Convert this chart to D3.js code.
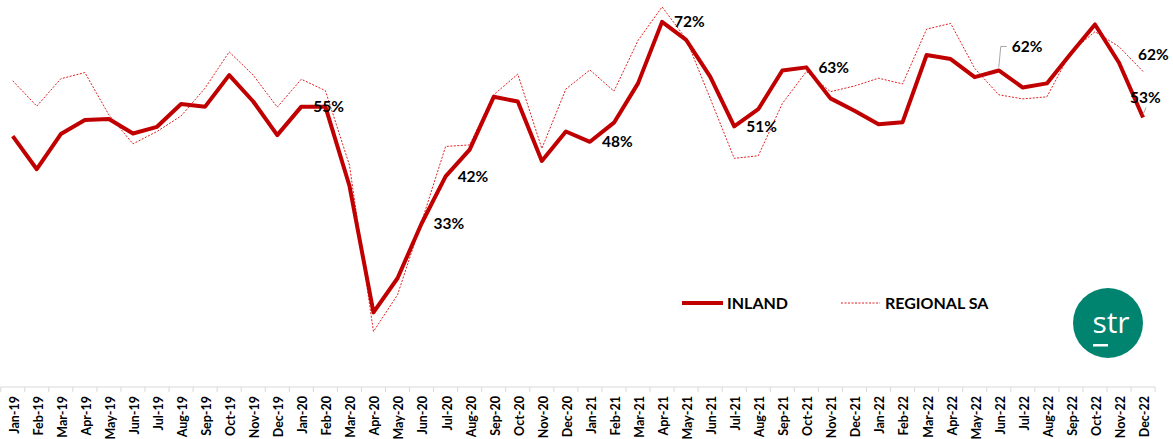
<!DOCTYPE html>
<html>
<head>
<meta charset="utf-8">
<script src="https://cdn.jsdelivr.net/npm/d3@7"></script>
<style>
	body { margin: 0; background: #fff; }
	svg { display: block; }
	.tick-label { font-family: Lato, "Open Sans", sans-serif; font-weight: bold; font-size: 12.5px; fill: #000; }
	.data-label { font-family: Lato, "Open Sans", sans-serif; font-weight: bold; font-size: 15.5px; fill: #000; }
	.legend-label { font-family: Lato, "Open Sans", sans-serif; font-weight: bold; font-size: 16px; fill: #000; }
</style>
</head>
<body>
<svg id="chart" width="1173" height="439"></svg>
<script>
// categories
var months = [
	"Jan-19", "Feb-19", "Mar-19", "Apr-19", "May-19", "Jun-19", "Jul-19", "Aug-19", "Sep-19", "Oct-19", "Nov-19", "Dec-19",
	"Jan-20", "Feb-20", "Mar-20", "Apr-20", "May-20", "Jun-20", "Jul-20", "Aug-20", "Sep-20", "Oct-20", "Nov-20", "Dec-20",
	"Jan-21", "Feb-21", "Mar-21", "Apr-21", "May-21", "Jun-21", "Jul-21", "Aug-21", "Sep-21", "Oct-21", "Nov-21", "Dec-21",
	"Jan-22", "Feb-22", "Mar-22", "Apr-22", "May-22", "Jun-22", "Jul-22", "Aug-22", "Sep-22", "Oct-22", "Nov-22", "Dec-22"
];

// occupancy (%)
var inland = [
	49.5, 43.1, 49.9, 52.6, 52.8, 50.0, 51.3, 55.7, 55.2, 61.3, 56.2, 49.7,
	55.2, 55.2, 39.9, 15.4, 22.0, 32.6, 41.7, 46.9, 57.1, 56.2, 44.7, 50.4,
	48.4, 52.1, 59.7, 71.6, 68.1, 61.0, 51.4, 54.7, 62.2, 62.8, 56.8, 54.4,
	51.8, 52.2, 65.2, 64.4, 60.9, 62.2, 58.9, 59.7, 65.5, 71.1, 63.7, 53.1
];
var regionalSA = [
	60.2, 55.3, 60.6, 61.8, 53.6, 48.0, 50.4, 53.4, 58.8, 65.8, 61.3, 55.1,
	60.5, 58.3, 43.9, 11.7, 18.8, 32.9, 47.5, 47.8, 57.5, 61.5, 47.1, 58.6,
	62.3, 58.2, 68.0, 74.5, 68.3, 56.8, 45.2, 45.7, 55.8, 62.0, 58.1, 59.2,
	60.7, 59.6, 70.2, 71.3, 62.6, 57.5, 56.7, 57.1, 65.8, 69.7, 66.8, 62.0
];

// which points carry a data label
var inlandLabelled = ["Jan-20", "Jun-20", "Jul-20", "Jan-21", "Apr-21", "Jul-21", "Oct-21", "Jun-22", "Dec-22"];
var regionalLabelled = ["Dec-22"];

var seriesNames = ["INLAND", "REGIONAL SA"];

var svg = d3.select("#chart");

// scales
var xScale = d3.scaleBand()
	.domain(months)
	.range([0.7, 1155.1])
	.padding(0);
var yScale = d3.scaleLinear()
	.domain([0, 75])
	.range([392, 4.3]);

var cx = function(m) { return xScale(m) + xScale.bandwidth() / 2; };
var axisY = 387;

// category axis
svg.append("line")
	.attr("x1", xScale.range()[0]).attr("x2", xScale.range()[1])
	.attr("y1", axisY).attr("y2", axisY)
	.style("stroke", "#d9d9d9").style("stroke-width", 1);
var edges = months.map(function(m) { return xScale(m); }).concat([xScale.range()[1]]);
svg.selectAll(".x-tick")
	.data(edges)
	.enter()
	.append("line")
	.attr("class", "x-tick")
	.attr("x1", function(d) { return d; }).attr("x2", function(d) { return d; })
	.attr("y1", axisY).attr("y2", axisY + 5)
	.style("stroke", "#d9d9d9").style("stroke-width", 1);
svg.selectAll(".tick-label")
	.data(months)
	.enter()
	.append("text")
	.attr("class", "tick-label")
	.attr("transform", function(d) { return "translate(" + (cx(d) + 1.5) + "," + (axisY + 9) + ") rotate(-90)"; })
	.attr("dy", "0.35em")
	.style("text-anchor", "end")
	.text(function(d) { return d; });

// lines
var line = d3.line()
	.x(function(d) { return cx(d.month); })
	.y(function(d) { return yScale(d.value); });
var toPoints = function(values) {
	return months.map(function(m, i) { return { month: m, value: values[i] }; });
};

svg.append("path")
	.datum(toPoints(regionalSA))
	.attr("d", line)
	.style("fill", "none")
	.style("stroke", "#e02020")
	.style("stroke-width", 1)
	.style("stroke-dasharray", "2,1.5");
svg.append("path")
	.datum(toPoints(inland))
	.attr("d", line)
	.style("fill", "none")
	.style("stroke", "#c00000")
	.style("stroke-width", 4)
	.style("stroke-linejoin", "round");

// data labels
var fmt = function(v) { return Math.round(v) + "%"; };
// label placement relative to point: default right of point; some moved with a leader line
var labelShift = {
	"INLAND|Jun-22": { dx: 13, dy: -24, leader: true },
	"INLAND|Dec-22": { dx: -13, dy: -20, leader: true },
	"REGIONAL SA|Dec-22": { dx: -5, dy: -17, leader: false }
};
var labelData = [];
inlandLabelled.forEach(function(m) {
	labelData.push({ series: "INLAND", month: m, value: inland[months.indexOf(m)] });
});
regionalLabelled.forEach(function(m) {
	labelData.push({ series: "REGIONAL SA", month: m, value: regionalSA[months.indexOf(m)] });
});

labelData.forEach(function(d) {
	var px = cx(d.month), py = yScale(d.value);
	var s = labelShift[d.series + "|" + d.month] || { dx: 12, dy: 0, leader: false };
	var tx = px + s.dx, ty = py + s.dy;
	if (s.leader) {
		var pts;
		if (s.dx > 0) {
			pts = [[px, py - 3], [px + 2, ty], [tx - 5, ty]];
		} else {
			pts = [[px, py - 3], [px + 3, ty + 10]];
		}
		svg.append("path")
			.attr("d", d3.line()(pts))
			.style("fill", "none")
			.style("stroke", "#a6a6a6")
			.style("stroke-width", 1);
	}
	svg.append("text")
		.attr("class", "data-label")
		.attr("x", tx)
		.attr("y", ty)
		.attr("dy", "0.35em")
		.text(fmt(d.value));
});

// legend
var legend = svg.append("g").attr("transform", "translate(682,303)");
legend.append("line")
	.attr("x1", 0).attr("x2", 41).attr("y1", 0).attr("y2", 0)
	.style("stroke", "#c00000").style("stroke-width", 4);
legend.append("text")
	.attr("class", "legend-label")
	.attr("x", 45).attr("y", 0).attr("dy", "0.35em")
	.text(seriesNames[0]);
legend.append("line")
	.attr("x1", 159).attr("x2", 198).attr("y1", 0).attr("y2", 0)
	.style("stroke", "#e02020").style("stroke-width", 1).style("stroke-dasharray", "2,1.5");
legend.append("text")
	.attr("class", "legend-label")
	.attr("x", 203).attr("y", 0).attr("dy", "0.35em")
	.text(seriesNames[1]);

// str logo
var logo = svg.append("g").attr("transform", "translate(1108,323)");
logo.append("circle")
	.attr("r", 35)
	.style("fill", "#00836f");
logo.append("text")
	.attr("x", 3).attr("y", 10)
	.style("text-anchor", "middle")
	.style("font-family", "'Open Sans', Lato, sans-serif")
	.style("font-size", "30px")
	.style("fill", "#fff")
	.text("str");
logo.append("rect")
	.attr("x", -15).attr("y", 21).attr("width", 15).attr("height", 2.5)
	.style("fill", "#fff");
</script>
</body>
</html>
